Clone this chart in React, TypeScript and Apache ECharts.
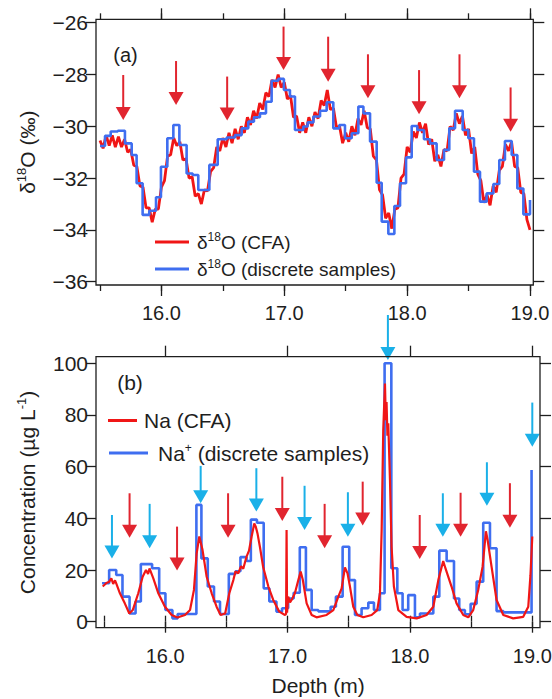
import React, { useEffect, useRef } from "react";
import * as echarts from "echarts";

const FONT = "'Liberation Sans', Arial, Helvetica, sans-serif";
const INK = "#1e1e1e";
const RED = "#f01616";
const BLUE = "#3f6ef0";
const ARROW_RED = "#e1252f";
const CYAN = "#1ab0e8";

// ---------- Panel (a): δ18O ----------
const d18oCfaDepth = [15.500,15.525,15.550,15.575,15.600,15.625,15.650,15.675,15.700,15.725,15.750,15.775,15.800,15.825,15.850,15.875,15.900,15.925,15.950,15.975,16.000,16.025,16.050,16.075,16.100,16.125,16.150,16.175,16.200,16.225,16.250,16.275,16.300,16.325,16.350,16.375,16.400,16.425,16.450,16.475,16.500,16.525,16.550,16.575,16.600,16.625,16.650,16.675,16.700,16.725,16.750,16.775,16.800,16.825,16.850,16.875,16.900,16.925,16.950,16.975,17.000,17.025,17.050,17.075,17.100,17.125,17.150,17.175,17.200,17.225,17.250,17.275,17.300,17.325,17.350,17.375,17.400,17.425,17.450,17.475,17.500,17.525,17.550,17.575,17.600,17.625,17.650,17.675,17.700,17.725,17.750,17.775,17.800,17.825,17.850,17.875,17.900,17.925,17.950,17.975,18.000,18.025,18.050,18.075,18.100,18.125,18.150,18.175,18.200,18.225,18.250,18.275,18.300,18.325,18.350,18.375,18.400,18.425,18.450,18.475,18.500,18.525,18.550,18.575,18.600,18.625,18.650,18.675,18.700,18.725,18.750,18.775,18.800,18.825,18.850,18.875,18.900,18.925,18.950,18.975,19.000];
const d18oCfaValue = [-30.55,-30.85,-30.35,-30.75,-30.35,-30.8,-30.4,-30.8,-30.5,-31.0,-30.9,-31.5,-31.55,-32.3,-32.35,-33.15,-33.15,-33.7,-33.2,-33.2,-32.35,-32.1,-31.15,-31.1,-30.45,-30.75,-30.6,-31.3,-31.25,-32.0,-31.95,-32.7,-32.6,-33.0,-32.45,-32.5,-31.75,-31.6,-30.8,-30.95,-30.45,-30.8,-30.25,-30.65,-30.1,-30.5,-30.0,-30.25,-29.65,-29.95,-29.4,-29.7,-29.1,-29.35,-28.7,-28.85,-28.2,-28.5,-28.0,-28.5,-28.3,-28.95,-28.8,-29.65,-29.6,-30.25,-29.85,-30.25,-29.65,-30.0,-29.45,-29.7,-29.0,-29.2,-28.6,-29.35,-29.3,-30.05,-30.0,-30.65,-30.25,-30.6,-30.0,-30.35,-29.7,-29.95,-29.4,-30.05,-30.1,-31.15,-31.3,-32.45,-32.65,-33.55,-33.35,-33.95,-33.2,-33.15,-32.0,-31.85,-30.8,-31.0,-30.2,-30.45,-29.85,-30.25,-29.9,-30.7,-30.5,-31.35,-31.1,-31.55,-30.9,-30.95,-30.0,-30.15,-29.5,-29.9,-29.6,-30.35,-30.1,-31.05,-30.8,-31.85,-32.1,-32.95,-32.65,-33.05,-32.3,-32.55,-31.7,-31.55,-30.7,-30.95,-30.6,-31.55,-31.6,-32.55,-32.6,-33.6,-34.0];

const d18oDiscDepth = [15.500,15.541,15.587,15.645,15.703,15.758,15.798,15.847,15.901,15.956,15.996,16.048,16.097,16.146,16.205,16.254,16.300,16.390,16.458,16.531,16.599,16.653,16.707,16.753,16.802,16.851,16.897,16.951,16.997,17.046,17.087,17.155,17.190,17.237,17.291,17.345,17.399,17.448,17.494,17.549,17.603,17.644,17.698,17.752,17.793,17.847,17.896,17.942,17.991,18.037,18.083,18.137,18.186,18.240,18.300,18.343,18.390,18.452,18.498,18.544,18.593,18.647,18.702,18.750,18.796,18.851,18.897,18.946,19.000];
const d18oDiscValue = [-30.76,-30.37,-30.20,-30.17,-30.66,-31.11,-32.20,-33.42,-33.26,-32.74,-31.56,-30.46,-29.95,-30.72,-31.82,-31.88,-32.46,-31.49,-30.50,-30.43,-30.34,-30.08,-29.82,-29.65,-29.50,-29.05,-28.24,-28.17,-28.60,-28.85,-30.14,-30.01,-29.85,-29.62,-29.40,-29.07,-30.08,-29.95,-30.46,-30.27,-29.24,-29.50,-30.59,-32.18,-33.68,-34.16,-33.08,-32.20,-31.20,-29.99,-30.14,-30.50,-30.66,-31.30,-30.91,-30.08,-29.40,-30.14,-30.46,-31.75,-32.91,-32.59,-32.23,-31.30,-30.57,-31.11,-32.40,-33.40,-32.85];

// arrows: [depth, stem top, arrow tip]
const d18oArrows = [[15.689,-28.02,-29.76],[16.119,-27.48,-29.18],[16.535,-28.08,-29.78],[16.994,-26.15,-27.83],[17.357,-26.54,-28.28],[17.681,-27.22,-28.92],[18.097,-27.83,-29.53],[18.426,-27.22,-28.92],[18.842,-28.50,-30.21]];

// ---------- Panel (b): Na ----------
const naCfaDepth = [15.489,15.520,15.543,15.560,15.575,15.590,15.600,15.630,15.670,15.707,15.735,15.780,15.816,15.843,15.860,15.872,15.885,15.903,15.944,15.998,16.053,16.100,16.162,16.203,16.235,16.257,16.279,16.305,16.339,16.380,16.420,16.453,16.490,16.524,16.557,16.575,16.597,16.620,16.638,16.665,16.685,16.706,16.728,16.740,16.755,16.774,16.800,16.843,16.883,16.932,16.979,16.988,16.992,16.996,17.005,17.020,17.033,17.060,17.088,17.107,17.125,17.156,17.197,17.237,17.319,17.374,17.415,17.442,17.469,17.490,17.510,17.537,17.570,17.619,17.687,17.733,17.755,17.769,17.782,17.796,17.803,17.809,17.816,17.823,17.837,17.850,17.869,17.905,17.973,18.055,18.136,18.191,18.232,18.272,18.290,18.340,18.381,18.436,18.477,18.517,18.558,18.594,18.621,18.635,18.667,18.708,18.763,18.844,18.926,18.967,18.985,19.000];
const naCfaValue = [13.6,15.0,15.5,16.8,14.6,16.0,14.8,11.0,7.1,3.2,4.5,11.0,17.4,20.0,18.5,20.6,19.0,16.8,11.0,5.8,2.6,1.6,2.6,4.5,12.3,26.4,33.0,27.8,17.4,11.0,5.8,2.6,3.2,11.0,16.1,19.5,18.7,21.5,20.5,25.2,27.5,32.9,38.0,36.8,34.0,29.0,21.3,13.6,8.4,3.9,2.6,3.0,35.5,3.5,9.7,7.5,8.4,11.0,16.1,19.4,16.1,7.1,2.6,1.7,2.6,4.5,9.7,12.9,21.0,18.7,13.6,5.8,2.6,1.7,2.6,4.5,11.0,35.5,74.2,92.2,78.0,85.0,72.0,76.8,54.8,29.0,13.6,4.5,1.9,1.3,2.6,5.8,16.1,23.5,20.7,13.6,7.1,2.6,1.7,4.5,12.3,21.3,35.0,31.6,21.3,8.4,2.6,1.3,1.9,5.8,18.0,33.0];

const naDiscDepth = [15.484,15.542,15.600,15.651,15.709,15.758,15.801,15.893,15.951,16.002,16.059,16.102,16.203,16.255,16.296,16.348,16.399,16.448,16.520,16.575,16.615,16.665,16.700,16.750,16.805,16.851,16.909,16.955,17.005,17.050,17.100,17.150,17.197,17.251,17.352,17.395,17.450,17.504,17.551,17.605,17.660,17.706,17.755,17.793,17.848,17.897,17.940,17.986,18.041,18.082,18.191,18.240,18.300,18.360,18.403,18.449,18.496,18.545,18.599,18.654,18.708,18.763,18.994];
const naDiscValue = [14.9,20.0,18.1,9.7,3.2,7.8,22.3,20.7,11.0,4.5,1.3,3.0,3.0,45.2,24.5,13.6,7.8,3.0,18.5,19.5,25.0,23.5,39.5,38.3,12.9,7.8,3.9,5.2,9.0,11.2,28.8,12.3,4.5,4.0,5.8,9.7,29.0,16.1,2.6,5.2,7.4,4.5,11.0,100,20.7,11.0,4.5,10.3,1.7,3.2,9.7,27.5,23.5,9.0,4.5,2.9,6.9,15.5,38.3,28.4,4.1,3.6,58.7];

const naCyanArrows = [[15.565,41.3,24.5],[15.873,45.6,28.4],[16.290,60.3,45.8],[16.745,59.4,42.6],[17.139,52.6,35.5],[17.493,50.1,32.9],[17.820,118.7,101.3],[18.269,49.7,32.9],[18.629,61.7,44.9],[19.000,84.8,67.7]];
const naRedArrows = [[15.709,49.7,32.5],[16.097,36.8,19.8],[16.514,49.7,32.5],[16.957,56.1,39.0],[17.303,45.6,28.4],[17.614,54.2,37.2],[18.080,41.3,24.3],[18.414,49.9,32.9],[18.817,53.6,36.4]];

const zip = (a: number[], b: number[]) => a.map((v, i) => [v, b[i]]);

const tickLine = { color: INK, width: 1.3 };
const supStyle = (fs: number, pad: number) => ({ fontSize: fs, fontFamily: FONT, color: INK, padding: [0, 0, pad, 0] });

function xAx(gridIndex: number, position: string, offset: number, min: number, max: number, interval: number, len: number, labels: boolean, extra: any = {}) {
  return {
    type: "value", gridIndex, position, offset, min, max, interval,
    axisLine: { show: false }, splitLine: { show: false },
    axisTick: { show: true, length: len, lineStyle: tickLine },
    axisLabel: labels ? {
      show: true, margin: 18, fontSize: 20, fontFamily: FONT, color: INK,
      formatter: (v: number) => (Math.abs(v - Math.round(v)) < 1e-6 ? v.toFixed(1) : ""),
    } : { show: false },
    ...extra,
  };
}
function yAx(gridIndex: number, position: string, offset: number, min: number, max: number, interval: number, len: number, labels: boolean, extra: any = {}) {
  return {
    type: "value", gridIndex, position, offset, min, max, interval,
    axisLine: { show: false }, splitLine: { show: false },
    axisTick: { show: true, length: len, lineStyle: tickLine },
    axisLabel: labels ? {
      show: true, margin: 8, fontSize: 21, fontFamily: FONT, color: INK,
      formatter: (v: number) => (v < 0 ? "\u2212" + Math.abs(v) : String(v)),
    } : { show: false },
    ...extra,
  };
}

function arrowSeries(data: number[][], color: string, xAxisIndex: number, yAxisIndex: number) {
  return {
    type: "custom", xAxisIndex, yAxisIndex, clip: false, z: 6, silent: true,
    data, encode: { x: 0, y: [1, 2] },
    renderItem: (_p: any, api: any) => {
      const top = api.coord([api.value(0), api.value(1)]);
      const tip = api.coord([api.value(0), api.value(2)]);
      const hw = 7.5, hh = 13;
      return {
        type: "group",
        children: [
          { type: "line", shape: { x1: top[0], y1: top[1], x2: tip[0], y2: tip[1] - hh + 1 }, style: { stroke: color, lineWidth: 2 } },
          { type: "polygon", shape: { points: [[tip[0] - hw, tip[1] - hh], [tip[0] + hw, tip[1] - hh], [tip[0], tip[1]]] }, style: { fill: color } },
        ],
      };
    },
  };
}

function legendFor(name: string, text: string, left: number, top: number, w: number, fs: number, gap: number) {
  return {
    show: true, data: [name], left, top, orient: "vertical", icon: "rect",
    itemWidth: w, itemHeight: 3, itemGap: 0, padding: 0, selectedMode: false,
    itemStyle: { borderWidth: 0 },
    formatter: () => text,
    textStyle: { fontSize: fs, fontFamily: FONT, color: INK, padding: [0, 0, 0, gap], rich: { sup: supStyle(12, 10) } },
  };
}

const option: any = {
  animation: false,
  backgroundColor: "#ffffff",
  grid: [
    { left: 100, top: 22.7, width: 430, height: 259, outerBoundsMode: "none" },
    { left: 104, top: 363.3, width: 428.3, height: 258.4, outerBoundsMode: "none" },
    { left: 161.43, top: 22.7, width: 368.57, height: 259, outerBoundsMode: "none" },
    { left: 165.2, top: 363.3, width: 367.1, height: 258.4, outerBoundsMode: "none" },
  ],
  xAxis: [
    xAx(0, "bottom", 3.3, 15.5, 19, 0.5, 6, true),
    xAx(0, "top", 3.4, 15.5, 19, 0.5, 6, false),
    xAx(1, "bottom", 6, 15.5, 19, 0.5, 6, true, {
      name: "Depth (m)", nameLocation: "middle", nameGap: 47,
      nameTextStyle: { fontSize: 21, fontFamily: FONT, color: INK },
    }),
    xAx(1, "top", 6.6, 15.5, 19, 0.5, 6, false),
    xAx(2, "bottom", 3.3, 16, 19, 1, 11, false),
    xAx(2, "top", 3.4, 16, 19, 1, 11, false),
    xAx(3, "bottom", 6, 16, 19, 1, 11, false),
    xAx(3, "top", 6.6, 16, 19, 1, 11, false),
  ],
  yAxis: [
    yAx(0, "left", 4, -36, -26, 2, 10, true, {
      name: "δ{sup|18}O (‰)", nameLocation: "middle", nameRotate: 90, nameGap: 57,
      nameTextStyle: { fontSize: 21, fontFamily: FONT, color: INK, rich: { sup: supStyle(13, 11) } },
    }),
    yAx(0, "right", 3.3, -36, -26, 2, 11, false),
    yAx(1, "left", 8, 0, 100, 20, 10, true, {
      name: "Concentration (µg L{sup|-1})", nameLocation: "middle", nameRotate: 90, nameGap: 57,
      nameTextStyle: { fontSize: 21, fontFamily: FONT, color: INK, rich: { sup: supStyle(13, 11) } },
    }),
    yAx(1, "right", 7.7, 0, 100, 20, 11, false),
    { type: "value", gridIndex: 2, min: -36, max: -26, show: false },
    { type: "value", gridIndex: 3, min: 0, max: 100, show: false },
  ],
  legend: [
    legendFor("δ18O (CFA)", "δ{sup|18}O (CFA)", 155, 231, 34, 19, 3),
    legendFor("δ18O (discrete samples)", "δ{sup|18}O (discrete samples)", 155, 258, 34, 19, 3),
    legendFor("Na (CFA)", "Na (CFA)", 108, 410, 29, 21, 2),
    legendFor("Na+ (discrete samples)", "Na{sup|+} (discrete samples)", 109, 442, 39, 21, 5),
  ],
  graphic: [
    { type: "rect", silent: true, z: 20, shape: { x: 96, y: 19.3, width: 437.3, height: 265.7 }, style: { fill: "none", stroke: INK, lineWidth: 1.3 } },
    { type: "rect", silent: true, z: 20, shape: { x: 96, y: 356.7, width: 444, height: 271 }, style: { fill: "none", stroke: INK, lineWidth: 1.3 } },
    { type: "text", silent: true, z: 20, x: 125.5, y: 55, style: { text: "(a)", fontSize: 20, fontFamily: FONT, fill: INK, align: "center", verticalAlign: "middle" } },
    { type: "text", silent: true, z: 20, x: 130, y: 382, style: { text: "(b)", fontSize: 21, fontFamily: FONT, fill: INK, align: "center", verticalAlign: "middle" } },
  ],
  series: [
    {
      name: "δ18O (CFA)", type: "line", xAxisIndex: 0, yAxisIndex: 0, color: RED,
      data: zip(d18oCfaDepth, d18oCfaValue), showSymbol: false, symbol: "none", clip: false, z: 2,
      lineStyle: { width: 2.8, color: RED },
    },
    {
      name: "δ18O (discrete samples)", type: "line", step: "end", xAxisIndex: 0, yAxisIndex: 0, color: BLUE,
      data: zip(d18oDiscDepth, d18oDiscValue), showSymbol: false, symbol: "none", clip: false, z: 3,
      lineStyle: { width: 2.6, color: BLUE },
    },
    arrowSeries(d18oArrows, ARROW_RED, 0, 0),
    {
      name: "Na+ (discrete samples)", type: "line", step: "end", xAxisIndex: 2, yAxisIndex: 2, color: BLUE,
      data: zip(naDiscDepth, naDiscValue), showSymbol: false, symbol: "none", clip: false, z: 2,
      lineStyle: { width: 2.6, color: BLUE },
    },
    {
      name: "Na (CFA)", type: "line", xAxisIndex: 2, yAxisIndex: 2, color: RED,
      data: zip(naCfaDepth, naCfaValue), showSymbol: false, symbol: "none", clip: false, z: 3,
      lineStyle: { width: 2.2, color: RED },
    },
    arrowSeries(naCyanArrows, CYAN, 2, 2),
    arrowSeries(naRedArrows, ARROW_RED, 2, 2),
  ],
};

export default function App() {
  const ref = useRef<HTMLDivElement>(null);
  useEffect(() => {
    const chart = echarts.init(ref.current!, null, { renderer: "svg" });
    chart.setOption(option);
    return () => chart.dispose();
  }, []);
  return (
    <div
      ref={ref}
      style={{ position: "fixed", left: 0, top: 0, width: 552, height: 699, background: "#fff" }}
    />
  );
}
